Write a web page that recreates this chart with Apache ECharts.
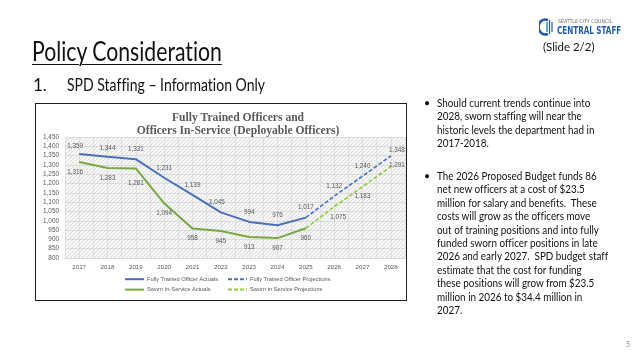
<!DOCTYPE html>
<html><head><meta charset="utf-8">
<script src="https://cdn.jsdelivr.net/npm/echarts@6/dist/echarts.min.js"></script>
<style>
html,body{margin:0;padding:0;width:640px;height:360px;overflow:hidden;background:#fff;}
.t{position:absolute;white-space:nowrap;transform-origin:0 0;}
.t, .t *{font-variant-ligatures:none !important;font-feature-settings:"liga" 0,"clig" 0,"dlig" 0 !important;}
#chart{position:absolute;left:0;top:0;width:640px;height:360px;}
#box{position:absolute;left:35px;top:103px;width:370px;height:196px;border:1.6px solid #1e1e1e;}
</style></head><body>
<div id="box"></div>
<div id="chart"></div>
<div class="t fit" data-w="190" style="left:32px;top:35px;font:26px Lato;color:#111;text-decoration:underline;text-decoration-thickness:1.4px;text-underline-offset:3px">Policy Consideration</div>
<div class="t" style="left:33px;top:74px;font:17px Lato;color:#111">1.</div>
<div class="t fit" data-w="198" style="left:67px;top:74px;font:17px Lato;color:#111">SPD Staffing – Information Only</div>

<svg style="position:absolute;left:539px;top:18px" width="16" height="18" viewBox="0 0 16 18">
  <path d="M9 2 A7 7.5 0 1 0 9 16" fill="none" stroke="#1f5aa8" stroke-width="2.6"/>
  <line x1="8" y1="4" x2="8" y2="14" stroke="#1f5aa8" stroke-width="1.2"/>
  <line x1="10.5" y1="2" x2="10.5" y2="16" stroke="#1f5aa8" stroke-width="1.2"/>
  <line x1="13" y1="4" x2="13" y2="14" stroke="#1f5aa8" stroke-width="1.2"/>
</svg>
<div class="t fit" data-w="54" style="left:558px;top:18px;font:5px 'DejaVu Sans Condensed';color:#6d6d6d">SEATTLE CITY COUNCIL</div>
<div class="t fit" data-w="64" style="left:557px;top:24px;font:bold 11px 'DejaVu Sans Condensed';color:#1f5aa8">CENTRAL STAFF</div>
<div class="t fit" data-w="52" style="left:543px;top:40px;font:11px Lato;color:#111">(Slide 2/2)</div>

<div class="t" style="left:424px;top:97px;font:10.5px Lato;color:#111;line-height:13.4px">•</div>
<div class="t" style="left:424px;top:170px;font:10.5px Lato;color:#111;line-height:13.4px">•</div>
<div class="t" id="bul" style="left:437px;top:97px;font:10.5px Lato;color:#111;line-height:13.4px">
<div>Should current trends continue into<br>2028, sworn staffing will near the<br>historic levels the department had in<br>2017-2018.</div>
<div style="margin-top:19.4px">The 2026 Proposed Budget funds 86<br>net new officers at a cost of $23.5<br>million for salary and benefits.&nbsp; These<br>costs will grow as the officers move<br>out of training positions and into fully<br>funded sworn officer positions in late<br><span id="longest">2026 and early 2027.&nbsp; SPD budget staff</span><br>estimate that the cost for funding<br>these positions will grow from $23.5<br>million in 2026 to $34.4 million in<br>2027.</div>
</div>
<div class="t" style="left:626px;top:340px;font:7px Lato;color:#8c8c8c">5</div>

<script>
// ---- data ----
const years = ['2017','2018','2019','2020','2021','2022','2023','2024','2025','2026','2027','2028'];
const trainedActuals = [1359, 1344, 1331, 1231, 1139, 1045, 994, 976, 1017];          // 2017-2025
const trainedProjections = [1017, 1132, 1240, 1348];                                  // 2025-2028
const swornActuals = [1316, 1283, 1281, 1094, 958, 945, 913, 907, 960];               // 2017-2025
const swornProjections = [960, 1075, 1183, 1291];                                     // 2025-2028
const projStart = 8;

// ---- text fitting ----
document.querySelectorAll('.fit').forEach(el => {
  const w = el.offsetWidth; const target = +el.dataset.w;
  if (w > 0) el.style.transform = 'scaleX(' + (target / w) + ')';
});
(function(){
  const l = document.getElementById('longest');
  const s = 171 / l.offsetWidth;
  document.getElementById('bul').style.transform = 'scaleX(' + s + ')';
})();

// ---- chart ----
const fmt = p => (p.value == null ? '' : Number(p.value).toLocaleString('en-US'));
const lblBase = {fontSize: 6.3, color: '#595959', fontFamily: 'Liberation Sans', formatter: fmt, distance: 6};

function build(arr, start, pos, firstHidden, offsets) {
  return years.map((y, i) => {
    const k = i - start;
    if (k < 0 || k >= arr.length) return null;
    const item = {value: arr[k], label: Object.assign({show: !(firstHidden && k === 0), position: pos}, lblBase)};
    if (offsets[k]) item.label.offset = offsets[k];
    return item;
  });
}

const pc = document.createElement('canvas');
pc.width = 4; pc.height = 4;
const pctx = pc.getContext('2d');
pctx.fillStyle = '#f6f6f6'; pctx.fillRect(0, 0, 4, 4);
pctx.fillStyle = '#dedede';
for (let i = 0; i < 4; i++) pctx.fillRect(i, 3 - i, 1, 1);

const chart = echarts.init(document.getElementById('chart'), null, {renderer: 'canvas'});
const axFont = {fontSize: 6.2, color: '#595959', fontFamily: 'Liberation Sans'};
const legFont = {fontSize: 5.7, color: '#595959', fontFamily: 'Liberation Sans', padding: [0, 0, 0, -2]};
const noMark = {color: 'rgba(0,0,0,0)', borderWidth: 0};
chart.setOption({
  animation: false,
  backgroundColor: 'transparent',
  graphic: [{
    type: 'text', x: 238, y: 111,
    style: {text: 'Fully Trained Officers and\nOfficers In-Service (Deployable Officers)',
      textAlign: 'center', fill: '#595959', font: 'bold 11.6px "Liberation Serif"', lineHeight: 13.5}
  }],
  grid: {left: 65, right: 235, top: 137, bottom: 102, show: true, borderWidth: 0,
    backgroundColor: {image: pc, repeat: 'repeat'}},
  legend: [
    {data: ['Fully Trained Officer Actuals', 'Sworn In-Service Actuals'], left: 124, top: 276,
      orient: 'vertical', itemWidth: 19, itemHeight: 8, itemGap: 4, padding: 0, textStyle: legFont},
    {data: ['Fully Trained Officer Projections', 'Sworn in Service Projections'], left: 227, top: 276,
      orient: 'vertical', itemWidth: 19, itemHeight: 8, itemGap: 4, padding: 0, textStyle: legFont}
  ],
  xAxis: [
    {type: 'category', data: years, boundaryGap: true,
      axisLine: {show: true, lineStyle: {color: '#d9d9d9'}}, axisTick: {show: false},
      axisLabel: Object.assign({margin: 6}, axFont), splitLine: {show: false}},
    {type: 'value', min: 0, max: 24, interval: 1, position: 'top', show: true,
      axisLine: {show: false}, axisTick: {show: false}, axisLabel: {show: false},
      splitLine: {show: true, lineStyle: {color: '#dadada', width: 0.8}}}
  ],
  yAxis: {type: 'value', min: 800, max: 1450, interval: 50,
    axisLine: {show: false}, axisTick: {show: false},
    axisLabel: Object.assign({margin: 6, formatter: v => v.toLocaleString('en-US')}, axFont, {fontSize: 6.4}),
    splitLine: {show: true, lineStyle: {color: '#d6d6d6', width: 0.8}}},
  series: [
    {name: 'Fully Trained Officer Actuals', type: 'line', symbol: 'circle', symbolSize: 2, showSymbol: true, z: 4,
      lineStyle: {color: '#4a70b6', width: 2}, itemStyle: noMark,
      data: build(trainedActuals, 0, 'top', false, {0: [-4, 2], 1: [0, 2], 5: [-4, 0]})},
    {name: 'Fully Trained Officer Projections', type: 'line', symbol: 'circle', symbolSize: 2, showSymbol: true, z: 3,
      lineStyle: {color: '#4472c4', width: 1.6, type: [4, 2]}, itemStyle: noMark,
      data: build(trainedProjections, projStart, 'top', true, {3: [6, 4]})},
    {name: 'Sworn In-Service Actuals', type: 'line', symbol: 'circle', symbolSize: 2, showSymbol: true, z: 4,
      lineStyle: {color: '#76a942', width: 2}, itemStyle: noMark,
      data: build(swornActuals, 0, 'bottom', false, {0: [-4, 0], 2: [0, 5]})},
    {name: 'Sworn in Service Projections', type: 'line', symbol: 'circle', symbolSize: 2, showSymbol: true, z: 3,
      lineStyle: {color: '#8fcb3f', width: 1.6, type: [4, 2]}, itemStyle: noMark,
      data: build(swornProjections, projStart, 'bottom', true, {1: [4, 0], 3: [6, -11]})}
  ]
});
</script>
</body></html>
